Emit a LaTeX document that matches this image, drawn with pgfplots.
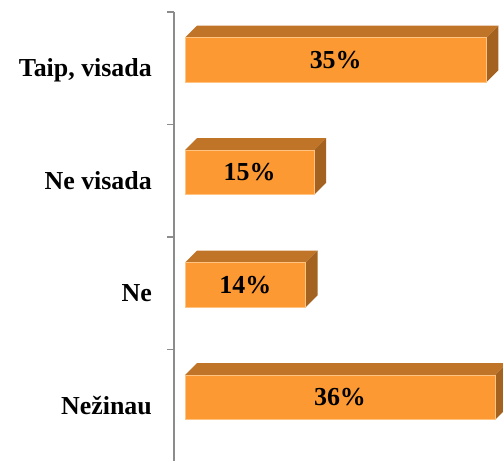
\documentclass[border=0pt]{standalone}
\usepackage{pgfplots}
\pgfplotsset{compat=1.18}
\usepackage{pgfplotstable}
\usepackage{fontspec}
\setmainfont{Liberation Serif}
\definecolor{frontc}{RGB}{252,153,50}
\definecolor{topc}{RGB}{192,116,40}
\definecolor{sidec}{RGB}{163,98,31}
\definecolor{edgec}{RGB}{255,196,130}
\definecolor{axc}{RGB}{140,140,140}
\pgfplotstableread{
y v
3 35
2 15
1 14
0 36
}\data
\newcommand\threedbar[2]{%
  \pgfmathsetmacro\yb{#1-0.125}%
  \pgfmathsetmacro\yt{#1+0.272}%
  \pgfmathsetmacro\yd{#1+0.272+0.1067}%
  \pgfmathsetmacro\yq{#1-0.125+0.1067}%
  \pgfmathsetmacro\xd{#2+1.394}%
  \addplot[fill=topc, draw=none] coordinates {(0,\yt) (#2,\yt) (\xd,\yd) (1.394,\yd)} -- cycle;
  \addplot[fill=sidec, draw=none] coordinates {(#2,\yb) (\xd,\yq) (\xd,\yd) (#2,\yt)} -- cycle;
  \addplot[fill=frontc, draw=edgec, line width=0.8bp] coordinates {(0,\yb) (#2,\yb) (#2,\yt) (0,\yt)} -- cycle;
}
\begin{document}
\begin{tikzpicture}
\begin{axis}[
  name=ax,
  scale only axis,
  width=329bp, height=450bp,
  xmin=-1.278, xmax=36.93,
  ymin=-0.5, ymax=3.5,
  axis x line=none,
  axis y line=left,
  y axis line style={-, draw=axc, line width=1.8bp},
  ytick={0,1,2,3},
  yticklabels={Nežinau, Ne, Ne visada, {Taip, visada}},
  major tick length=0pt,
  minor ytick={-0.5,0.5,1.5,2.5,3.5},
  minor tick length=7bp,
  tick align=outside,
  minor tick style={draw=axc, line width=1.5bp},
  yticklabel shift=22bp,
  yticklabel style={font=\bfseries\fontsize{26}{30}\selectfont, inner sep=0pt, text height=17bp, text depth=0pt, anchor=east},
]
\threedbar{3}{35}
\threedbar{2}{15}
\threedbar{1}{14}
\threedbar{0}{36}
\addplot[only marks, mark=none,
  point meta=\thisrow{v},
  nodes near coords={\pgfmathprintnumber[assume math mode=true]{\pgfplotspointmeta}\%},
  every node near coord/.append style={anchor=center, font=\bfseries\fontsize{26}{30}\selectfont, text=black, inner sep=0pt, text height=17bp, text depth=0pt}]
  table[x expr=\thisrow{v}/2, y expr=\thisrow{y}+0.0735] {\data};
\end{axis}
\pgfresetboundingbox
\path[use as bounding box] ([xshift=-174bp,yshift=1bp]ax.south west) rectangle ([yshift=12bp]ax.north east);
\end{tikzpicture}
\end{document}
